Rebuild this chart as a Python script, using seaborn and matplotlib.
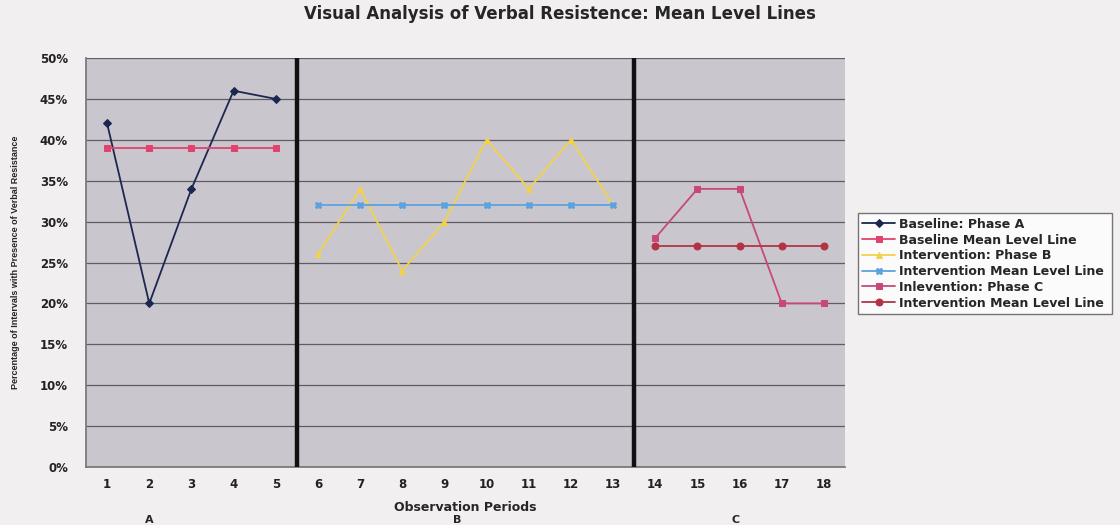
import matplotlib
matplotlib.use("Agg")
import matplotlib.pyplot as plt
import matplotlib.ticker as mticker
import seaborn as sns
import pandas as pd

# Observation periods per phase
periods_a = [1, 2, 3, 4, 5]
periods_b = [6, 7, 8, 9, 10, 11, 12, 13]
periods_c = [14, 15, 16, 17, 18]

# Percentage of intervals with verbal resistance
baseline_a = [42, 20, 34, 46, 45]
baseline_mean = [39, 39, 39, 39, 39]
intervention_b = [26, 34, 24, 30, 40, 34, 40, 32]
intervention_b_mean = [32, 32, 32, 32, 32, 32, 32, 32]
intervention_c = [28, 34, 34, 20, 20]
intervention_c_mean = [27, 27, 27, 27, 27]

series_labels = [
    "Baseline: Phase A",
    "Baseline Mean Level Line",
    "Intervention: Phase B",
    "Intervention Mean Level Line",
    "Inlevention: Phase C",
    "Intervention Mean Level Line ",
]
phase_letters = ["A", "B", "C"]

sns.set_theme(style="white")
plt.rcParams["font.family"] = ["DejaVu Sans"]

fig = plt.figure(figsize=(11.2, 5.25), dpi=100)
fig.patch.set_facecolor("#f1efef")
ax = fig.add_axes([0.0768, 0.1105, 0.6777, 0.779])
ax.set_facecolor("#cac6cd")

styles = [
    (periods_a, baseline_a, "#1c2750", "D", 4),
    (periods_a, baseline_mean, "#e2426e", "s", 5),
    (periods_b, intervention_b, "#f2d24a", "^", 5),
    (periods_b, intervention_b_mean, "#5ca2df", "X", 5),
    (periods_c, intervention_c, "#c8487a", "s", 5),
    (periods_c, intervention_c_mean, "#b23444", "o", 5),
]

for (xs, ys, color, marker, ms), label in zip(styles, series_labels):
    df = pd.DataFrame({"period": xs, "pct": ys})
    sns.lineplot(data=df, x="period", y="pct", ax=ax, color=color,
                 marker=marker, markersize=ms, markeredgecolor=color,
                 linewidth=1.3, label=label)

# Phase change lines
for xline in (5.5, 13.5):
    ax.axvline(xline, color="#111111", linewidth=3.2, zorder=5)

ax.set_xlim(0.5, 18.5)
ax.set_ylim(0, 50)
ax.set_xticks(range(1, 19))
ax.set_yticks(range(0, 51, 5))
ax.yaxis.set_major_formatter(mticker.FuncFormatter(lambda v, p: f"{int(v)}%"))
ax.tick_params(axis="x", labelsize=8.5, length=0, pad=8, colors="#222222")
ax.tick_params(axis="y", labelsize=8.5, length=0, pad=13, colors="#222222")
for lab in ax.get_xticklabels() + ax.get_yticklabels():
    lab.set_fontweight("bold")
ax.grid(axis="y", color="#5f5d63", linewidth=0.9)
for side in ("top", "right"):
    ax.spines[side].set_visible(False)
ax.spines["left"].set_color("#777777")
ax.spines["bottom"].set_color("#777777")

ax.set_xlabel("Observation Periods", fontsize=9, fontweight="bold", labelpad=7)
ax.set_ylabel("Percentage of Intervals with Presence of Verbal Resistance",
              fontsize=6.5, fontweight="bold", family="Liberation Sans",
              labelpad=14)
fig.suptitle("Visual Analysis of Verbal Resistence: Mean Level Lines",
             x=0.5, y=0.973, va="center", fontsize=12, fontweight="bold")

for letter, xpos in zip(phase_letters, [2.0, 9.3, 15.9]):
    fig.text((86 + (xpos - 0.5) * 42.17) / 1120, 0.01, letter,
             ha="center", va="center", fontsize=8, fontweight="bold")

leg = ax.legend(loc="center left", bbox_to_anchor=(1.017, 0.497), frameon=True,
                fontsize=9, handlelength=2.6, borderpad=0.35, labelspacing=0.22,
                handletextpad=0.3, fancybox=False, borderaxespad=0)
leg.get_frame().set_edgecolor("#555555")
leg.get_frame().set_facecolor("white")
for t in leg.get_texts():
    t.set_fontweight("bold")

fig.savefig("out.png", dpi=100, facecolor=fig.get_facecolor())
